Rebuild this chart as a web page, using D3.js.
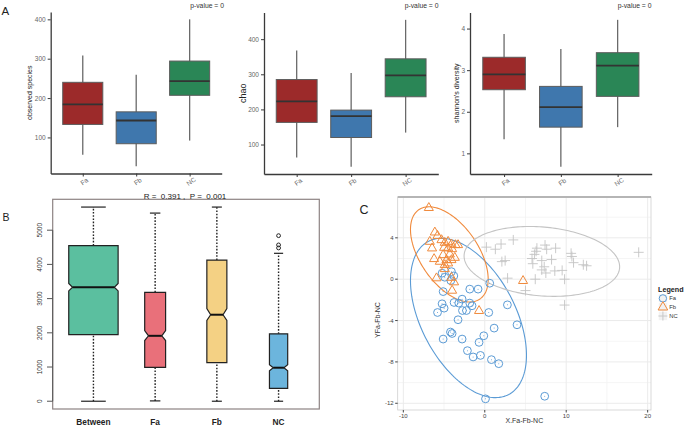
<!DOCTYPE html>
<html><head><meta charset="utf-8">
<script src="https://cdn.jsdelivr.net/npm/d3@7"></script>
<style>
body{margin:0;background:#fff}
svg{display:block;font-family:"Liberation Sans",Arial,sans-serif}
</style>
</head><body>
<svg id="c" width="685" height="425"></svg>
<script>
// ---------- Panel A data ----------
const groupsA = ["Fa", "Fb", "NC"];
// [lower whisker, q1, median, q3, upper whisker]
const observedStats = [[56,133,184,240,308],[27,84,143,165,259],[92,207,243,294,400]];
const chaoStats     = [[63,163,223,285,368],[37,120,181,198,304],[134,236,297,344,455]];
const shannonStats  = [[1.34,2.53,2.90,3.31,3.87],[0.68,1.63,2.11,2.61,3.51],[1.63,2.37,3.11,3.42,4.21]];
const observedTicks = [100,200,300,400];
const chaoTicks     = [100,200,300,400];
const shannonTicks  = [1,2,3,4];
const colorsA = ["#9c2a2a","#3f77ad","#2a8656"];
const pLabel = "p-value = 0";

// ---------- Panel B data ----------
const groupsB = ["Between","Fa","Fb","NC"];
const pairCountsB = [1539,276,253,210];
// [lower whisker, q1, median, q3, upper whisker, notch low, notch high]
const statsB = [
  [0,1950,3333,4550,5676,3225,3441],
  [10,991,1912,3185,5500,1774,2068],
  [0,1127,2529,4127,5676,2362,2706],
  [0,373,980,1970,4324,892,1068]
];
const outliersB = [[],[],[],[4480,4570,4840]];
const ticksB = [0,1000,2000,3000,4000,5000];
const colorsB = ["#5bbf9f","#e9707a","#f4d184","#6cb5dd"];
const titleB = "R =  0.391 ,  P =  0.001";

// ---------- Panel C data ----------
const groupsC = ["Fa","Fb","NC"];
const pointsFa = [[-5.24,0.58],[-4.09,0.73],[-4.91,0.19],[-3.80,0.32],[-4.17,-0.13],[0.61,-0.39],
  [-5.11,-1.20],[-1.84,-0.96],[-0.82,-0.96],[-2.78,-1.93],[-3.77,-2.25],[-3.19,-2.31],[-1.84,-2.31],
  [-1.56,-2.57],[-5.24,-2.38],[-4.99,-2.80],[-5.80,-3.22],[-2.25,-3.03],[-2.74,-3.03],[0.49,-3.22],
  [2.78,-2.48],[-3.28,-3.92],[3.96,-4.41],[1.15,-4.73],[-4.21,-5.11],[-4.01,-5.25],[-5.11,-5.79],
  [-2.78,-5.79],[-0.12,-5.47],[-0.70,-6.11],[-2.13,-6.91],[-0.53,-7.37],[-1.43,-7.52],[0.82,-7.78],
  [1.72,-8.17],[0.09,-11.57],[7.36,-11.32]];
const pointsFb = [[-6.87,6.90],[-6.13,4.53],[-5.80,4.20],[-6.75,3.63],[-5.31,3.79],[-4.91,3.53],
  [-4.50,3.63],[-4.09,3.38],[-3.60,3.31],[-3.28,3.31],[-6.47,2.99],[-4.99,3.05],[-4.50,2.99],
  [-4.01,2.92],[-6.22,1.96],[-5.11,2.34],[-4.29,2.41],[-3.68,2.08],[-4.09,1.86],[-5.52,1.70],
  [-4.70,1.86],[-4.91,1.38],[-4.50,1.54],[-4.91,0.99],[-5.93,0.10],[-4.09,0.15],[-3.77,-0.29],
  [-4.01,-1.10],[-0.70,-3.06],[4.70,-0.16]];
const pointsNC = [[0.2,3.1],[1.3,2.9],[2.0,3.4],[3.5,3.8],[2.1,1.7],[2.5,1.8],[2.8,0.1],[5.0,-1.1],
  [6.2,0.0],[6.3,2.7],[6.4,3.0],[7.4,3.3],[7.6,2.9],[8.7,3.0],[6.1,2.4],[5.8,2.0],[5.9,1.5],
  [7.0,1.8],[8.2,1.9],[7.3,1.2],[7.0,0.9],[7.5,0.6],[8.6,0.8],[9.5,0.85],[9.8,0.0],[10.6,2.5],
  [10.7,2.2],[10.9,1.6],[12.1,1.4],[12.5,1.3],[9.8,-2.5],[18.9,2.6]];
// ellipse: [cx, cy, xHalf, yAtXExtreme, ySin]  -> x = cx + a cos t, y = cy + b cos t + c sin t
const ellipseFa = [-2.0,-3.75,7.12,-3.6,6.81];
const ellipseFb = [-4.35,2.4,4.77,-2.41,3.92];
const ellipseNC = [7.01,1.72,9.55,-0.52,3.34];
const xLimC = [-10.69,20.41];
const yLimC = [-12.65,7.95];
const xTicksC = [-10,0,10,20];
const yTicksC = [-12,-8,-4,0,4];
const colorsC = ["#5b9bd5","#f08a3c","#c4c4c4"];

const svg = d3.select("#c");

// ================= Panel A =================
function panelA(stats, ticks, label, xr, yr, labelX, labelSize, pRight) {
  const all = stats.flat();
  const lo = d3.min(all), hi = d3.max(all), pad = (hi - lo) * 0.05;
  const y = d3.scaleLinear().domain([lo - pad, hi + pad]).range(yr);
  const x = d3.scalePoint().domain(groupsA).range(xr).padding(0.6);
  const bw = x.step() * 0.75;
  const g = svg.append("g");
  groupsA.forEach((k, i) => {
    const s = stats[i], cx = x(k);
    g.append("line").attr("x1", cx).attr("x2", cx).attr("y1", y(s[0])).attr("y2", y(s[4]))
      .attr("stroke", "#6a6a6a").attr("stroke-width", 1.3);
    g.append("rect").attr("x", cx - bw / 2).attr("y", y(s[3])).attr("width", bw)
      .attr("height", y(s[1]) - y(s[3])).attr("fill", colorsA[i])
      .attr("stroke", "#5c5c5c").attr("stroke-width", 1);
    g.append("line").attr("x1", cx - bw / 2).attr("x2", cx + bw / 2).attr("y1", y(s[2])).attr("y2", y(s[2]))
      .attr("stroke", "#333").attr("stroke-width", 1.8);
  });
  const ya = g.append("g").attr("transform", `translate(${xr[0]},0)`)
    .call(d3.axisLeft(y).tickValues(ticks).tickFormat(d3.format("d")).tickSize(3).tickSizeOuter(0).tickPadding(2));
  const xa = g.append("g").attr("transform", `translate(0,${yr[0]})`)
    .call(d3.axisBottom(x).tickSize(3).tickSizeOuter(0));
  [ya, xa].forEach(a => {
    a.select(".domain").attr("stroke", "#3a3a3a").attr("stroke-width", 1.3);
    a.selectAll(".tick line").attr("stroke", "#3a3a3a");
    a.selectAll("text").attr("fill", "#666").attr("font-size", 6.5).attr("font-family", null);
  });
  xa.selectAll("text").attr("y", 0).attr("dy", "0.35em").attr("text-anchor", "middle")
    .attr("transform", "translate(1,8) rotate(-35)");
  g.append("text").attr("transform", `translate(${labelX},${(yr[0] + yr[1]) / 2}) rotate(-90)`)
    .attr("text-anchor", "middle").attr("font-size", labelSize).attr("fill", "#222").text(label);
  g.append("text").attr("x", pRight).attr("y", 8).attr("text-anchor", "end")
    .attr("font-size", 6.8).attr("fill", "#333").text(pLabel);
}
panelA(observedStats, observedTicks, "observed species", [50.7, 221.7], [173.5, 12], 32, 7, 224);
panelA(chaoStats, chaoTicks, "chao", [264, 438.3], [174, 12.5], 245.5, 9, 438.5);
panelA(shannonStats, shannonTicks, "shannon's diversity", [470, 651.7], [174, 12.5], 459, 7, 651.5);

svg.append("text").attr("x", 1.5).attr("y", 15).attr("font-size", 11.5).attr("fill", "#222").text("A");

// ================= Panel B =================
(function () {
  const allV = statsB.flat().concat(outliersB.flat());
  const lo = d3.min(allV), hi = d3.max(allV), pad = (hi - lo) * 0.04;
  const x = d3.scaleLinear().domain([0.34, groupsB.length + 0.66]).range([52.7, 319.3]);
  const y = d3.scaleLinear().domain([lo - pad, hi + pad]).range([409, 199.3]);
  const unit = x(2) - x(1);
  const maxN = d3.max(pairCountsB);
  const g = svg.append("g");
  groupsB.forEach((k, i) => {
    const s = statsB[i], cx = x(i + 1);
    const hw = unit * 0.8 * Math.sqrt(pairCountsB[i] / maxN) / 2;
    const ins = 3.8;
    const dash = "1.6,1.6";
    g.append("line").attr("x1", cx).attr("x2", cx).attr("y1", y(s[0])).attr("y2", y(s[1]))
      .attr("stroke", "#222").attr("stroke-width", 1.4).attr("stroke-dasharray", dash);
    g.append("line").attr("x1", cx).attr("x2", cx).attr("y1", y(s[3])).attr("y2", y(s[4]))
      .attr("stroke", "#222").attr("stroke-width", 1.4).attr("stroke-dasharray", dash);
    [s[0], s[4]].forEach(v => g.append("line").attr("x1", cx - hw / 2).attr("x2", cx + hw / 2)
      .attr("y1", y(v)).attr("y2", y(v)).attr("stroke", "#222").attr("stroke-width", 1.2));
    const xl = cx - hw, xr = cx + hw;
    const pts = [[xl, s[3]], [xr, s[3]], [xr, s[6]], [xr - ins, s[2]], [xr, s[5]], [xr, s[1]],
                 [xl, s[1]], [xl, s[5]], [xl + ins, s[2]], [xl, s[6]]];
    g.append("path").attr("d", d3.line().x(d => d[0]).y(d => y(d[1]))(pts) + "Z")
      .attr("fill", colorsB[i]).attr("stroke", "#222").attr("stroke-width", 1.2);
    g.append("line").attr("x1", xl + ins).attr("x2", xr - ins).attr("y1", y(s[2])).attr("y2", y(s[2]))
      .attr("stroke", "#111").attr("stroke-width", 2);
    outliersB[i].forEach(v => g.append("circle").attr("cx", cx).attr("cy", y(v)).attr("r", 1.9)
      .attr("fill", "none").attr("stroke", "#222").attr("stroke-width", 1));
    g.append("text").attr("x", cx).attr("y", 424.5).attr("text-anchor", "middle")
      .attr("font-size", 8.3).attr("font-weight", "bold").attr("fill", "#222").text(k);
  });
  g.append("rect").attr("x", 52.7).attr("y", 199.3).attr("width", 319.3 - 52.7).attr("height", 409 - 199.3)
    .attr("fill", "none").attr("stroke", "#8d8383").attr("stroke-width", 1.2);
  g.append("line").attr("x1", 52.7).attr("x2", 52.7).attr("y1", y(ticksB[0])).attr("y2", y(ticksB[ticksB.length - 1]))
    .attr("stroke", "#555");
  ticksB.forEach(v => {
    g.append("line").attr("x1", 47).attr("x2", 52.7).attr("y1", y(v)).attr("y2", y(v)).attr("stroke", "#555");
    g.append("text").attr("transform", `translate(41.5,${y(v)}) rotate(-90)`).attr("text-anchor", "middle")
      .attr("font-size", 6.5).attr("fill", "#333").text(v);
  });
  g.append("text").attr("x", 185).attr("y", 198.5).attr("text-anchor", "middle")
    .style("white-space", "pre").attr("font-size", 8).attr("fill", "#222").text(titleB);
  svg.append("text").attr("x", 2.5).attr("y", 220.5).attr("font-size", 10.5).attr("fill", "#222").text("B");
})();

// ================= Panel C =================
(function () {
  const L = 397.7, R = 651, T = 197, B = 410;
  const x = d3.scaleLinear().domain(xLimC).range([L, R]);
  const y = d3.scaleLinear().domain(yLimC).range([B, T]);
  const g = svg.append("g");
  g.append("rect").attr("x", L).attr("y", T).attr("width", R - L).attr("height", B - T).attr("fill", "#fff");
  const minorX = [-5, 5, 15], minorY = [-10, -6, -2, 2, 6];
  minorX.forEach(v => g.append("line").attr("x1", x(v)).attr("x2", x(v)).attr("y1", T).attr("y2", B).attr("stroke", "#f3f3f3").attr("stroke-width", 0.8));
  minorY.forEach(v => g.append("line").attr("y1", y(v)).attr("y2", y(v)).attr("x1", L).attr("x2", R).attr("stroke", "#f3f3f3").attr("stroke-width", 0.8));
  xTicksC.forEach(v => g.append("line").attr("x1", x(v)).attr("x2", x(v)).attr("y1", T).attr("y2", B).attr("stroke", "#ebebeb").attr("stroke-width", 1));
  yTicksC.forEach(v => g.append("line").attr("y1", y(v)).attr("y2", y(v)).attr("x1", L).attr("x2", R).attr("stroke", "#ebebeb").attr("stroke-width", 1));

  const ellipses = [ellipseFa, ellipseFb, ellipseNC];
  const ts = d3.range(0, 2 * Math.PI, Math.PI / 90);
  ellipses.forEach((e, i) => {
    const pts = ts.map(t => [e[0] + e[2] * Math.cos(t), e[1] + e[3] * Math.cos(t) + e[4] * Math.sin(t)]);
    g.append("path").attr("d", d3.line().x(d => x(d[0])).y(d => y(d[1])).curve(d3.curveLinearClosed)(pts))
      .attr("fill", "none").attr("stroke", colorsC[i]).attr("stroke-width", 1.1);
  });
  pointsNC.forEach(p => {
    const px = x(p[0]), py = y(p[1]);
    g.append("path").attr("d", `M${px - 5},${py}H${px + 5}M${px},${py - 5}V${py + 5}`)
      .attr("stroke", colorsC[2]).attr("stroke-width", 0.9).attr("fill", "none");
  });
  pointsFa.forEach(p => {
    g.append("circle").attr("cx", x(p[0])).attr("cy", y(p[1])).attr("r", 3.9)
      .attr("fill", "none").attr("stroke", colorsC[0]).attr("stroke-width", 1);
    g.append("circle").attr("cx", x(p[0])).attr("cy", y(p[1])).attr("r", 0.5).attr("fill", colorsC[0]);
  });
  const tri = d3.symbol().type(d3.symbolTriangle).size(36);
  pointsFb.forEach(p => {
    g.append("path").attr("d", tri()).attr("transform", `translate(${x(p[0])},${y(p[1])})`)
      .attr("fill", "none").attr("stroke", colorsC[1]).attr("stroke-width", 1);
  });
  g.append("rect").attr("x", L).attr("y", T).attr("width", R - L).attr("height", B - T)
    .attr("fill", "none").attr("stroke", "#cfcfcf").attr("stroke-width", 0.8);
  g.append("line").attr("x1", L).attr("x2", R).attr("y1", T).attr("y2", T).attr("stroke", "#b5b5b5").attr("stroke-width", 2.2);
  xTicksC.forEach(v => {
    g.append("line").attr("x1", x(v)).attr("x2", x(v)).attr("y1", B).attr("y2", B + 2.5).attr("stroke", "#444");
    g.append("text").attr("x", x(v)).attr("y", B + 8).attr("text-anchor", "middle")
      .attr("font-size", 6).attr("fill", "#444").text(v);
  });
  yTicksC.forEach(v => {
    g.append("line").attr("x1", L - 2.5).attr("x2", L).attr("y1", y(v)).attr("y2", y(v)).attr("stroke", "#444");
    g.append("text").attr("x", L - 4).attr("y", y(v)).attr("dy", "0.35em").attr("text-anchor", "end")
      .attr("font-size", 6).attr("fill", "#444").text(v);
  });
  g.append("text").attr("x", (L + R) / 2).attr("y", 422.5).attr("text-anchor", "middle")
    .attr("font-size", 7).attr("fill", "#333").text("X.Fa-Fb-NC");
  g.append("text").attr("transform", `translate(380,320) rotate(-90)`).attr("text-anchor", "middle")
    .attr("font-size", 7).attr("fill", "#333").text("YFa-Fb-NC");
  svg.append("text").attr("x", 359.5).attr("y", 213.5).attr("font-size", 12.5).attr("fill", "#222").text("C");

  // legend
  const lg = svg.append("g");
  lg.append("text").attr("x", 658).attr("y", 292).attr("font-size", 7.2).attr("font-weight", "bold")
    .attr("fill", "#222").text("Legend");
  const ks = 8.8;
  groupsC.forEach((k, i) => {
    const ky = 294 + i * ks, kx = 658.5;
    lg.append("rect").attr("x", kx).attr("y", ky).attr("width", ks).attr("height", ks)
      .attr("fill", "#f2f2f2").attr("stroke", "#fff").attr("stroke-width", 0.6);
    const cx = kx + ks / 2, cy = ky + ks / 2;
    if (i === 0) lg.append("circle").attr("cx", cx).attr("cy", cy).attr("r", 3.7).attr("fill", "none").attr("stroke", colorsC[0]);
    if (i === 1) lg.append("path").attr("d", d3.symbol().type(d3.symbolTriangle).size(40)()).attr("transform", `translate(${cx},${cy})`).attr("fill", "none").attr("stroke", colorsC[1]);
    if (i === 2) lg.append("path").attr("d", `M${cx - 4.5},${cy}H${cx + 4.5}M${cx},${cy - 4.5}V${cy + 4.5}`).attr("stroke", colorsC[2]).attr("stroke-width", 0.9);
    lg.append("text").attr("x", kx + ks + 2).attr("y", cy).attr("dy", "0.35em").attr("font-size", 5.8)
      .attr("fill", "#333").text(k);
  });
})();
</script>
</body></html>
